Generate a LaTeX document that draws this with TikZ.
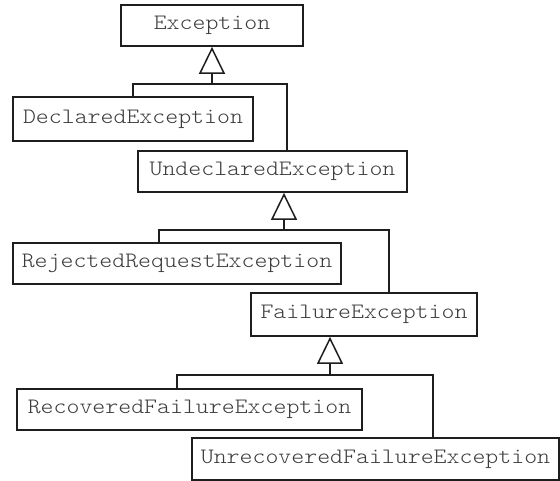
\documentclass[tikz,border=0pt]{standalone}
\usepackage{fontspec}
\setmonofont{lmmonolt10-regular}[Extension=.otf, FakeStretch=1.12]
\usetikzlibrary{arrows.meta}
\definecolor{ink}{HTML}{1E1E1E}
\definecolor{label}{HTML}{3C3C3C}
\begin{document}
\begin{tikzpicture}[x=1pt,y=-1pt,
  cls/.style={draw=ink, line width=1.8pt, fill=white, inner sep=0pt,
    font=\ttfamily\fontsize{22}{24}\selectfont, text=label},
  conn/.style={draw=ink, line width=1.5pt, line join=miter},
  inherit/.style={conn, -{Triangle[open, length=27pt, width=26pt, fill=white]}}]
\useasboundingbox (0,0) rectangle (560,481);

% class boxes
\node[cls, minimum width=182pt, minimum height=41pt] (exc)   at (212,25.5)   {Exception};
\node[cls, minimum width=240pt, minimum height=44pt] (dec)   at (133,119)    {DeclaredException};
\node[cls, minimum width=269pt, minimum height=41pt] (und)   at (272.5,171.5){UndeclaredException};
\node[cls, minimum width=328pt, minimum height=41pt] (rej)   at (177,263.5)  {RejectedRequestException};
\node[cls, minimum width=226pt, minimum height=43pt] (fail)  at (364,314.5)  {FailureException};
\node[cls, minimum width=345pt, minimum height=41pt] (rec)   at (189.5,409.5){RecoveredFailureException};
\node[cls, minimum width=367pt, minimum height=42pt] (unrec) at (375.5,459)  {UnrecoveredFailureException};

% generalisation: Exception
\coordinate (j1) at (212,84);
\draw[conn] (dec.north) |- (j1) -| ([xshift=14.5pt]und.north);
\draw[inherit] (j1) -- (exc.south -| j1);

% generalisation: UndeclaredException
\coordinate (j2) at (284,230);
\draw[conn] ([xshift=-18pt]rej.north) |- (j2) -| ([xshift=25pt]fail.north);
\draw[inherit] (j2) -- (und.south -| j2);

% generalisation: FailureException
\coordinate (j3) at (330,375);
\draw[conn] ([xshift=-12.5pt]rec.north) |- (j3) -| ([xshift=57.5pt]unrec.north);
\draw[inherit] (j3) -- (fail.south -| j3);
\end{tikzpicture}
\end{document}
